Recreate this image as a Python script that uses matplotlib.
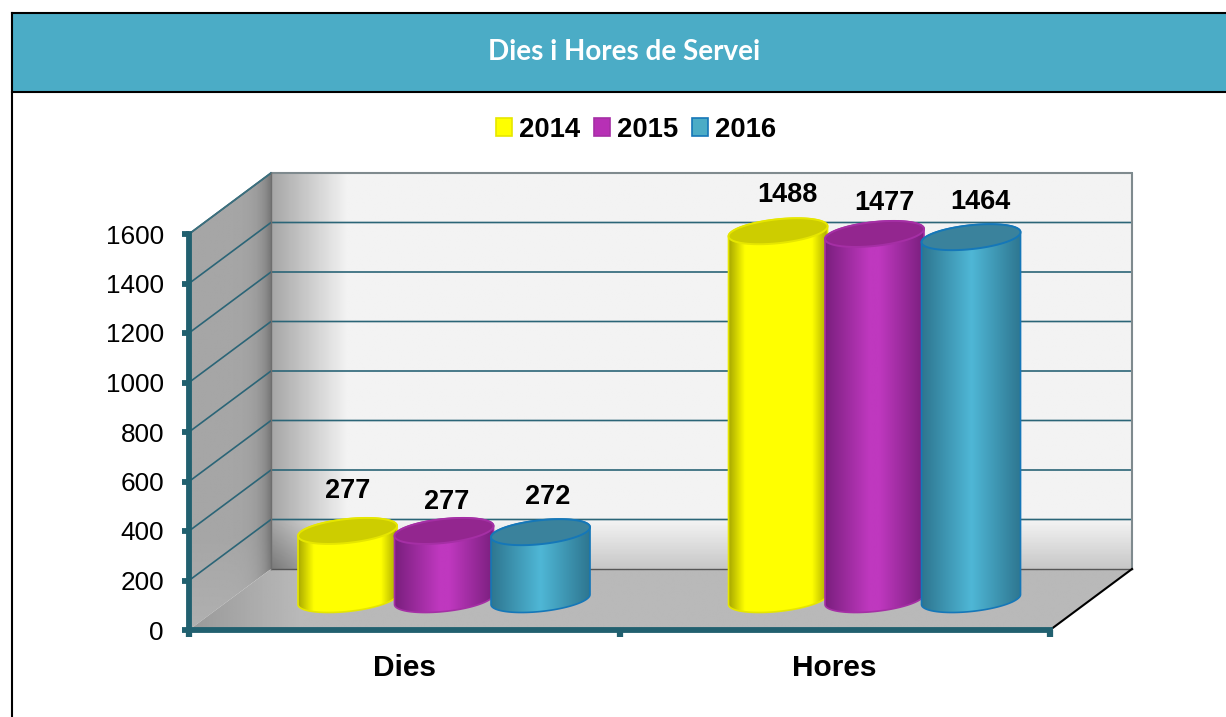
import numpy as np
import matplotlib
matplotlib.use("Agg")
import matplotlib.pyplot as plt
from matplotlib.colors import LinearSegmentedColormap
from matplotlib.patches import Patch, Polygon, Rectangle

categories = ["Dies", "Hores"]
years = ["2014", "2015", "2016"]
values_2014 = [277, 1488]
values_2015 = [277, 1477]
values_2016 = [272, 1464]
y_ticks = [0, 200, 400, 600, 800, 1000, 1200, 1400, 1600]

W, H = 1226, 717
plt.rcParams["font.family"] = ["Liberation Sans", "DejaVu Sans"]
fig = plt.figure(figsize=(W / 100, H / 100), dpi=100, facecolor="white")

# page frame and title band, in pixels
bg = fig.add_axes([0, 0, 1, 1])
bg.set_xlim(0, W)
bg.set_ylim(H, 0)
bg.axis("off")
bg.add_patch(Rectangle((12, 13), W, 79, fc="#4bacc6", ec="none"))
bg.plot([12, W], [13, 13], color="black", lw=1.5)
bg.plot([12, W], [92, 92], color="black", lw=1.5)
bg.plot([12, 12], [13, H], color="black", lw=1.5)
bg.text(624, 52, "Dies i Hores de Servei", color="white", ha="center", va="center",
        fontsize=20, fontweight="bold", family="Lato")

# front plane of the chart
ax = fig.add_axes([189 / W, (H - 630) / H, 861 / W, 396 / H], zorder=2)
ax.patch.set_visible(False)
ax.set_xlim(0, 2)
ax.set_ylim(0, 1600)
px = 2 / 861      # one pixel in x data units
py = 1600 / 396   # one pixel in y data units
dx = 82 * px      # depth of the box
dy = 61 * py


def shaded(arr, extent, clip_pts, cmap="gray", z=1):
    poly = Polygon(clip_pts, closed=True, fc="none", ec="none", transform=ax.transData)
    ax.add_patch(poly)
    im = ax.imshow(arr, extent=extent, origin="lower", aspect="auto", cmap=cmap, vmin=0, vmax=1,
                   interpolation="bilinear", zorder=z)
    im.set_clip_box(fig.bbox)
    im.set_clip_path(poly)
    return im


# back wall
gx = np.clip(np.linspace(0, 2 / (75 * px), 400), 0, 1)
gy = np.linspace(0, 1, 300)
wall = 0.95 * np.ones((300, 400))
wall = wall - (1 - gx)[None, :] * 0.3
low = np.clip(1 - (gy * 1600) / 190, 0, 1)
wall = wall - low[:, None] * 0.17
shaded(np.clip(wall, 0, 1), (dx, 2 + dx, dy, 1600 + dy),
       [(dx, dy), (2 + dx, dy), (2 + dx, 1600 + dy), (dx, 1600 + dy)])

# left wall
lx = np.linspace(0, 1, 100)
ly = np.linspace(0, 1, 300)
side = 0.65 + np.clip(0.2 - ly, 0, 1)[:, None] * 0.2 - (lx ** 8)[None, :] * 0.2
shaded(np.clip(side, 0, 1), (0, dx, 0, 1600 + dy),
       [(0, 0), (dx, dy), (dx, 1600 + dy), (0, 1600)])

# floor
fx = np.clip(np.linspace(0, (2 + dx) / (110 * px), 500), 0, 1)
floor = 0.6 + fx[None, :] * 0.125
shaded(floor, (0, 2 + dx, 0, dy),
       [(0, 0), (2, 0), (2 + dx, dy), (dx, dy)])

# grid on both walls
for v in y_ticks[1:]:
    ax.plot([0, dx, 2 + dx], [v, v + dy, v + dy], color="#2b6577", lw=1.2, clip_on=False, zorder=2)

# box outlines
ax.plot([dx, 2 + dx, 2 + dx], [1600 + dy, 1600 + dy, dy], color="#7f8a8e", lw=1.5, clip_on=False, zorder=2)
ax.plot([dx, 2 + dx], [dy, dy], color="#555555", lw=1, clip_on=False, zorder=2)
ax.plot([2, 2 + dx], [0, dy], color="black", lw=1.5, clip_on=False, zorder=2)
ax.plot([0, dx], [1600, 1600 + dy], color="#3d6f7d", lw=1.2, clip_on=False, zorder=2)
ax.plot([dx, dx], [dy, 1600 + dy], color="#6e6e6e", lw=1, clip_on=False, zorder=2)

series = [values_2014, values_2015, values_2016]
side_cols = ["#a9a900", "#7a1f7e", "#2e7690"]
mid_cols = ["#ffff00", "#bf38bf", "#4fb7d6"]
cap_cols = ["#cdcd00", "#93268f", "#3a829c"]
edge_cols = ["#e6e600", "#a52fa5", "#1577b8"]
fill_cols = ["#ffff00", "#b730b5", "#4bacc6"]
ramps = [0.16, 0.45, 0.5]

# placement of each value label relative to its cylinder top, in pixels
label_off = [[(0, 40), (3, 29), (7, 35)], [(9, 36), (10, 31), (9, 35)]]

a = 49.5 * px
b = 12 * py
s = 5 * py
step = 96.5 * px
t_low = np.linspace(np.pi, 2 * np.pi, 60)
t_up = np.linspace(0, np.pi, 60)
t_all = np.linspace(0, 2 * np.pi, 120)


def rim(cx, cy, t):
    return np.column_stack([cx + a * np.cos(t), cy + b * np.sin(t) + s * np.cos(t)])


z = 5
for i in range(len(categories)):
    group_x = i + 0.5 + dx * 0.485
    base = dy * 0.5
    for j in range(len(years)):
        cx = group_x + (j - 1) * step
        top = base + series[j][i]
        pts = np.vstack([rim(cx, base, t_low), rim(cx, top, t_up)])
        cmap = LinearSegmentedColormap.from_list(
            "cyl" + str(j),
            [(0, side_cols[j]), (ramps[j], mid_cols[j]), (1 - ramps[j], mid_cols[j]), (1, side_cols[j])])
        shaded(np.linspace(0, 1, 256)[None, :], (cx - a, cx + a, base - 2 * b, top + 2 * b),
               pts, cmap=cmap, z=z)
        ax.add_patch(Polygon(pts, closed=True, fc="none", ec=edge_cols[j], lw=1.2, zorder=z + 0.1, clip_on=False))
        ax.add_patch(Polygon(rim(cx, top, t_all), closed=True, fc=cap_cols[j], ec=edge_cols[j], lw=1.4,
                             zorder=z + 0.2, clip_on=False))
        off = label_off[i][j]
        ax.annotate(str(series[j][i]), (cx, top), xytext=(off[0] * 0.72, off[1] * 0.72),
                    textcoords="offset points", ha="center", va="center",
                    fontsize=19.5, fontweight="bold", color="black", zorder=20, annotation_clip=False)
        z += 1

ax.set_xlim(0, 2)
ax.set_ylim(0, 1600)

# axis lines and ticks
for name in ["top", "right"]:
    ax.spines[name].set_visible(False)
for name in ["left", "bottom"]:
    ax.spines[name].set_color("#21606f")
    ax.spines[name].set_linewidth(4.2)
    ax.spines[name].set_zorder(30)
ax.set_yticks(y_ticks)
ax.tick_params(axis="y", direction="out", length=5, width=4.2, color="#21606f", pad=13, labelsize=18.8,
               labelcolor="black")
ax.set_xticks([0, 1, 2])
ax.set_xticklabels([])
ax.tick_params(axis="x", which="major", direction="out", length=5, width=4.5, color="#21606f")
ax.set_xticks([0.5, 1.5], minor=True)
ax.set_xticklabels(categories, minor=True, fontsize=21.5, fontweight="bold")
ax.tick_params(axis="x", which="minor", length=0, pad=17)

handles = [Patch(fc=fill_cols[j], ec=edge_cols[j], lw=1.2, label=years[j]) for j in range(len(years))]
fig.legend(handles=handles, ncol=3, loc="center", bbox_to_anchor=(636 / W, 1 - 130 / H), frameon=False,
           prop={"size": 19.8, "weight": "bold"}, handlelength=0.58, handleheight=0.62,
           handletextpad=0.25, columnspacing=0.52, borderpad=0, borderaxespad=0)

fig.savefig("out.png", dpi=100)
